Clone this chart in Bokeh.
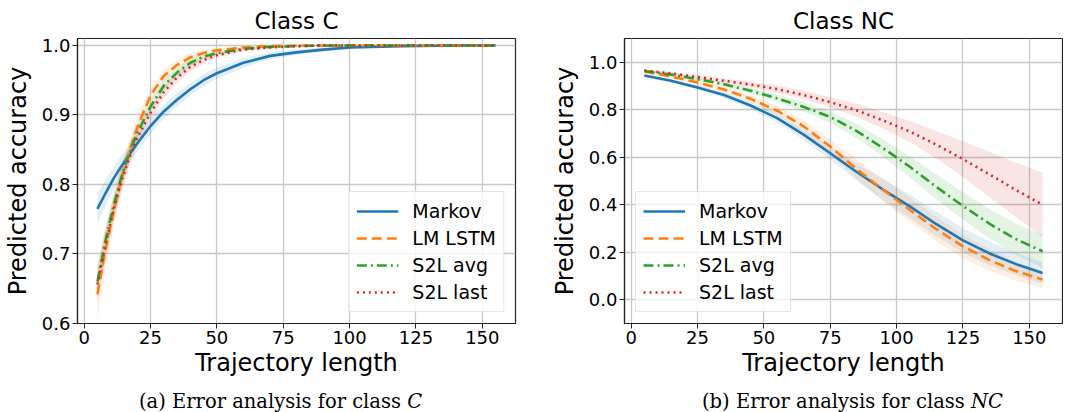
from bokeh.plotting import figure
from bokeh.layouts import row, column
from bokeh.models import ColumnDataSource, Range1d, FixedTicker, Div
from bokeh.embed import file_html
from bokeh.resources import INLINE

# ---------------- data ----------------
series_names = ["Markov", "LM LSTM", "S2L avg", "S2L last"]
colors = ["#1f77b4", "#ff7f0e", "#2ca02c", "#d62728"]
dashes = ["solid", "10 5", "10 4 2 4", "2 4"]

x_ticks = [0, 25, 50, 75, 100, 125, 150]
x_tick_labels = ["0", "25", "50", "75", "100", "125", "150"]

# Class C
x_c = [5, 8, 11, 14, 17, 20, 25, 30, 35, 40, 45, 50, 60, 70, 80, 90, 100, 120, 140, 155]
markov_c = [0.765, 0.787, 0.808, 0.826, 0.843, 0.859, 0.884, 0.905, 0.922, 0.937, 0.950, 0.960, 0.975, 0.985, 0.990, 0.994, 0.997, 0.999, 1.0, 1.0]
lstm_c = [0.642, 0.705, 0.760, 0.808, 0.848, 0.882, 0.928, 0.956, 0.972, 0.983, 0.989, 0.993, 0.997, 0.999, 1.0, 1.0, 1.0, 1.0, 1.0, 1.0]
avg_c = [0.660, 0.718, 0.768, 0.810, 0.845, 0.874, 0.912, 0.942, 0.961, 0.975, 0.984, 0.989, 0.995, 0.998, 0.999, 1.0, 1.0, 1.0, 1.0, 1.0]
last_c = [0.656, 0.713, 0.762, 0.804, 0.839, 0.867, 0.903, 0.933, 0.954, 0.969, 0.979, 0.986, 0.994, 0.997, 0.999, 1.0, 1.0, 1.0, 1.0, 1.0]
markov_c_hw = [0.022, 0.019, 0.017, 0.015, 0.013, 0.012, 0.011, 0.010, 0.010, 0.009, 0.009, 0.008, 0.007, 0.005, 0.004, 0.003, 0.002, 0.001, 0.0005, 0.0003]
lstm_c_hw = [0.035, 0.028, 0.023, 0.019, 0.016, 0.014, 0.011, 0.009, 0.007, 0.006, 0.004, 0.003, 0.002, 0.001, 0.0005, 0.0003, 0.0002, 0.0001, 0.0, 0.0]
avg_c_hw = [0.025, 0.021, 0.018, 0.016, 0.014, 0.012, 0.010, 0.008, 0.007, 0.006, 0.004, 0.003, 0.002, 0.001, 0.0005, 0.0003, 0.0002, 0.0001, 0.0, 0.0]
last_c_hw = [0.025, 0.021, 0.018, 0.016, 0.014, 0.012, 0.010, 0.009, 0.008, 0.007, 0.005, 0.004, 0.002, 0.001, 0.0005, 0.0003, 0.0002, 0.0001, 0.0, 0.0]
y_ticks_c = [0.6, 0.7, 0.8, 0.9, 1.0]
y_tick_labels_c = ["0.6", "0.7", "0.8", "0.9", "1.0"]

# Class NC
x_nc = [5, 15, 25, 35, 45, 55, 65, 75, 85, 95, 105, 115, 125, 135, 145, 155]
markov_nc = [0.944, 0.922, 0.894, 0.862, 0.818, 0.765, 0.695, 0.617, 0.538, 0.463, 0.393, 0.318, 0.250, 0.195, 0.150, 0.113]
lstm_nc = [0.961, 0.940, 0.915, 0.885, 0.846, 0.796, 0.730, 0.645, 0.550, 0.462, 0.378, 0.297, 0.225, 0.167, 0.120, 0.085]
avg_nc = [0.963, 0.948, 0.929, 0.907, 0.880, 0.848, 0.812, 0.770, 0.710, 0.638, 0.560, 0.475, 0.395, 0.320, 0.255, 0.204]
last_nc = [0.965, 0.953, 0.938, 0.922, 0.906, 0.887, 0.862, 0.832, 0.797, 0.755, 0.708, 0.653, 0.592, 0.528, 0.462, 0.400]
markov_nc_hw = [0.006, 0.008, 0.010, 0.012, 0.015, 0.018, 0.022, 0.028, 0.036, 0.045, 0.050, 0.052, 0.052, 0.050, 0.047, 0.045]
lstm_nc_hw = [0.006, 0.008, 0.010, 0.012, 0.016, 0.020, 0.025, 0.032, 0.040, 0.048, 0.052, 0.052, 0.050, 0.045, 0.040, 0.035]
avg_nc_hw = [0.005, 0.006, 0.008, 0.010, 0.013, 0.016, 0.020, 0.025, 0.030, 0.037, 0.045, 0.052, 0.058, 0.062, 0.066, 0.070]
last_nc_hw = [0.005, 0.006, 0.008, 0.010, 0.012, 0.015, 0.018, 0.022, 0.028, 0.035, 0.045, 0.058, 0.075, 0.095, 0.115, 0.135]
y_ticks_nc = [0.0, 0.2, 0.4, 0.6, 0.8, 1.0]
y_tick_labels_nc = ["0.0", "0.2", "0.4", "0.6", "0.8", "1.0"]

captions = [("(a) Error analysis for class ", "C"), ("(b) Error analysis for class ", "NC")]

FONT = "DejaVu Sans"
SERIF = "DejaVu Serif"


def make_fig(title, x, ys, hws, yrange, yticks, ylabels, legend_loc, bl, br):
    p = figure(title=title, frame_width=438, frame_height=285,
               min_border_left=bl, min_border_right=br,
               min_border_top=28, min_border_bottom=64,
               x_range=Range1d(-2.5, 162.5), y_range=Range1d(*yrange),
               output_backend="svg", toolbar_location=None)
    p.title.align = "center"
    p.title.text_font = FONT
    p.title.text_font_size = "23px"
    p.title.text_font_style = "normal"
    p.title.text_color = "black"

    p.outline_line_color = "#222222"
    p.outline_line_width = 1.2
    p.background_fill_color = "white"
    p.border_fill_color = "white"

    for ax in (p.xaxis[0], p.yaxis[0]):
        ax.axis_line_color = "#222222"
        ax.axis_line_width = 1.2
        ax.major_tick_line_color = "#222222"
        ax.major_tick_out = 5
        ax.major_tick_in = 0
        ax.minor_tick_line_color = None
        ax.major_label_text_font = FONT
        ax.major_label_text_font_size = "18px"
        ax.major_label_text_color = "black"
        ax.axis_label_text_font = FONT
        ax.axis_label_text_font_size = "24px"
        ax.axis_label_text_font_style = "normal"
        ax.axis_label_text_color = "black"
        ax.major_label_standoff = 2
        ax.axis_label_standoff = 2
    p.yaxis.axis_label_standoff = 7

    p.xaxis.ticker = FixedTicker(ticks=x_ticks)
    p.xaxis.major_label_overrides = {t: l for t, l in zip(x_ticks, x_tick_labels)}
    p.yaxis.ticker = FixedTicker(ticks=yticks)
    p.yaxis.major_label_overrides = {t: l for t, l in zip(yticks, ylabels)}
    p.xaxis.axis_label = "Trajectory length"
    p.yaxis.axis_label = "Predicted accuracy"

    p.xgrid.ticker = FixedTicker(ticks=x_ticks)
    p.ygrid.ticker = FixedTicker(ticks=yticks)
    p.grid.grid_line_color = "#c8c8c8"
    p.grid.grid_line_width = 1.3

    for y, hw, c in zip(ys, hws, colors):
        src = ColumnDataSource(dict(x=x, lo=[a - b for a, b in zip(y, hw)],
                                    hi=[a + b for a, b in zip(y, hw)]))
        p.varea(x="x", y1="lo", y2="hi", source=src, fill_color=c, fill_alpha=0.12)

    for y, c, d, name in zip(ys, colors, dashes, series_names):
        src = ColumnDataSource(dict(x=x, y=y))
        p.line(x="x", y="y", source=src, line_color=c, line_width=2.6,
               line_dash=d, legend_label=name)

    lg = p.legend[0]
    lg.location = legend_loc
    lg.label_text_font = FONT
    lg.label_text_font_size = "19px"
    lg.label_text_color = "black"
    lg.glyph_width = 42
    lg.glyph_height = 24
    lg.label_height = 24
    lg.spacing = 3
    lg.padding = 7
    lg.label_standoff = 14
    lg.margin = 11
    lg.border_line_color = "#cccccc"
    lg.border_line_width = 1
    lg.background_fill_alpha = 0.8
    return p


def make_caption(main, it, width, left_pad):
    html = ('<div style="margin-left:%dpx; font-family:\'%s\', serif; '
            'font-size:19.5px; line-height:19px; white-space:nowrap; color:black;">'
            '%s<i>%s</i></div>' % (left_pad, SERIF, main, it))
    return Div(text=html, width=width, height=19)


p1 = make_fig("Class C", x_c, [markov_c, lstm_c, avg_c, last_c],
              [markov_c_hw, lstm_c_hw, avg_c_hw, last_c_hw],
              (0.6, 1.01), y_ticks_c, y_tick_labels_c, "bottom_right", 73, 29)
p2 = make_fig("Class NC", x_nc, [markov_nc, lstm_nc, avg_nc, last_nc],
              [markov_nc_hw, lstm_nc_hw, avg_nc_hw, last_nc_hw],
              (-0.1, 1.1), y_ticks_nc, y_tick_labels_nc, "bottom_left", 80, 1)

c1 = make_caption(captions[0][0], captions[0][1], 540, 134)
c2 = make_caption(captions[1][0], captions[1][1], 519, 147)

layout = column(row(p1, p2), row(c1, c2))
open("out.html", "w").write(file_html(layout, INLINE))
